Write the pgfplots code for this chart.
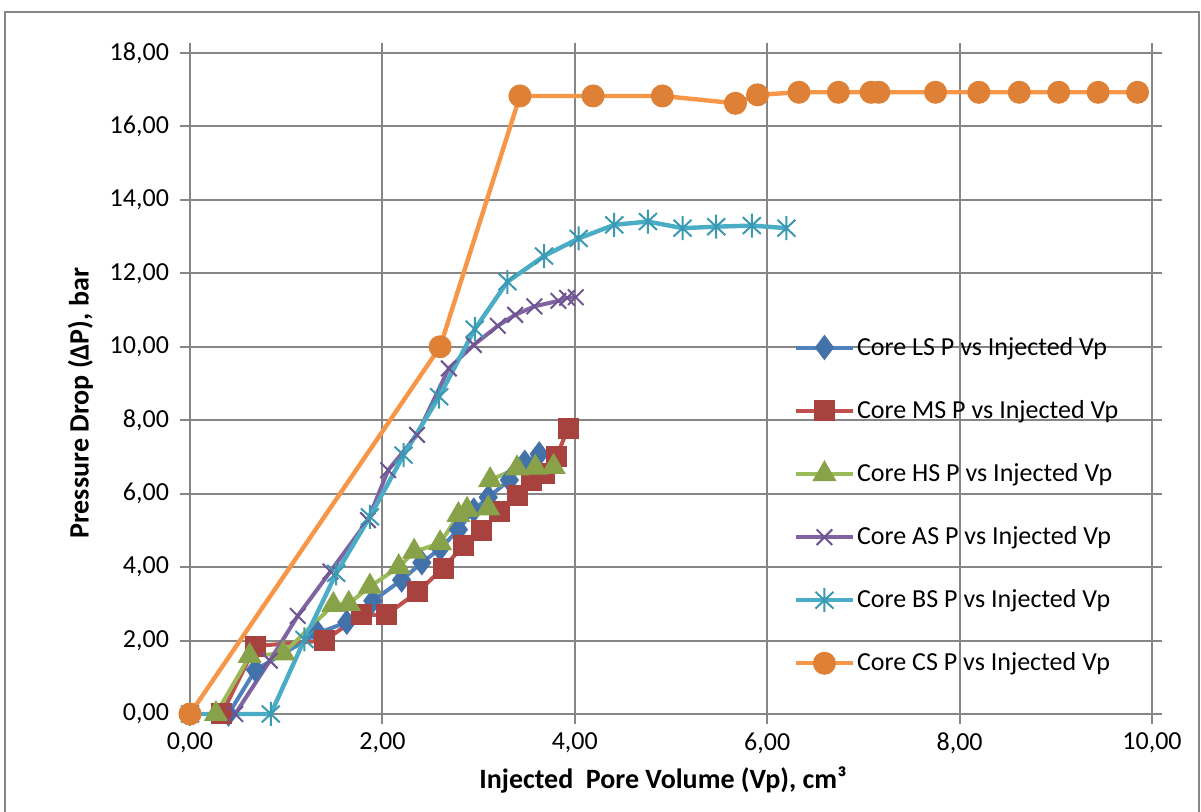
\documentclass[border=0pt]{standalone}
\usepackage{fontspec}
\setmainfont{Carlito}
\usepackage{pgfplots}
\pgfplotsset{compat=1.18}

\definecolor{gridgray}{HTML}{868686}
\definecolor{lsL}{HTML}{4F81BD}\definecolor{lsM}{HTML}{4372AA}
\definecolor{msL}{HTML}{C0504D}\definecolor{msM}{HTML}{A8423F}
\definecolor{hsL}{HTML}{9BBB59}\definecolor{hsM}{HTML}{88A24A}
\definecolor{asL}{HTML}{8064A2}\definecolor{asM}{HTML}{6E5490}
\definecolor{bsL}{HTML}{4BACC6}\definecolor{bsM}{HTML}{3A9AB3}
\definecolor{csL}{HTML}{F79646}\definecolor{csM}{HTML}{DE8136}

\pgfdeclareplotmark{xlstar}{%
  \pgfpathmoveto{\pgfqpoint{0pt}{\pgfplotmarksize}}%
  \pgfpathlineto{\pgfqpoint{0pt}{-\pgfplotmarksize}}%
  \pgfpathmoveto{\pgfqpoint{.75\pgfplotmarksize}{.7\pgfplotmarksize}}%
  \pgfpathlineto{\pgfqpoint{-.75\pgfplotmarksize}{-.7\pgfplotmarksize}}%
  \pgfpathmoveto{\pgfqpoint{-.75\pgfplotmarksize}{.7\pgfplotmarksize}}%
  \pgfpathlineto{\pgfqpoint{.75\pgfplotmarksize}{-.7\pgfplotmarksize}}%
  \pgfusepathqstroke}

\begin{document}
\begin{tikzpicture}
\useasboundingbox (-95pt,-49pt) rectangle (505.5pt,357pt);
\draw[gridgray, line width=1pt] (-92.5pt,-60pt) -- (-92.5pt,351pt) -- (504.5pt,351pt) -- (504.5pt,-60pt);
\begin{axis}[
  at={(0,0)}, anchor=south west, scale only axis,
  width=481pt, height=330.5pt,
  xmin=0, xmax=10, ymin=0, ymax=18,
  xtick={0,2,...,10}, ytick={0,2,...,18},
  grid=major,
  major grid style={line width=1pt, gridgray},
  axis line style={line width=1pt, gridgray},
  tick style={line width=1pt, gridgray},
  tick align=outside, major tick length=5pt,
  clip=false,
  ticklabel style={font=\fontsize{13}{15}\selectfont},
  xticklabel style={yshift=-1pt},
  yticklabel style={xshift=-2pt},
  /pgf/number format/.cd, fixed, fixed zerofill, precision=2, use comma, assume math mode=true,
  /pgfplots/.cd,
  xlabel={Injected~ Pore Volume (Vp), cm³},
  ylabel={Pressure Drop (ΔP), bar},
  xlabel style={font=\bfseries\fontsize{14}{16}\selectfont, at={(axis description cs:0.5,0)}, anchor=center, yshift=-33pt, xshift=-4pt},
  ylabel style={font=\bfseries\fontsize{14}{16}\selectfont, at={(axis description cs:-0.114,0.47)}, anchor=center},
  legend style={at={(0.621,0.58)}, anchor=north west, draw=none, fill=none,
    font=\fontsize{13}{15}\selectfont, row sep=19pt, nodes={inner sep=1pt}},
  legend cell align=left,
  legend image code/.code={\draw[mark repeat=2,mark phase=2,#1] plot coordinates {(0cm,0cm) (0.5cm,0cm) (1cm,0cm)};},
]
\addplot[lsL, line width=2pt, mark=diamond*, mark size=6pt, mark options={fill=lsM, draw=lsM, line width=0.5pt}]
coordinates {(0.40,0)(0.68,1.20)(1.33,2.20)(1.63,2.50)(1.90,3.08)(2.20,3.65)(2.41,4.12)(2.60,4.50)(2.79,5.02)(2.95,5.55)(3.10,5.90)(3.32,6.37)(3.48,6.85)(3.63,7.08)};
\addlegendentry{Core LS P vs Injected Vp}
\addplot[msL, line width=2pt, mark=square*, mark size=5pt, mark options={fill=msM, draw=msM, line width=0.5pt}]
coordinates {(0.33,0)(0.68,1.85)(1.40,2.00)(1.78,2.70)(2.04,2.70)(2.37,3.33)(2.63,3.97)(2.84,4.58)(3.03,5.00)(3.22,5.52)(3.40,5.96)(3.55,6.35)(3.69,6.55)(3.81,7.00)(3.93,7.78)};
\addlegendentry{Core MS P vs Injected Vp}
\addplot[hsL, line width=2pt, mark=triangle*, mark size=6.5pt, mark options={fill=hsM, draw=hsM, line width=0.5pt}]
coordinates {(0.27,0)(0.62,1.58)(0.97,1.65)(1.49,2.97)(1.65,3.00)(1.87,3.47)(2.17,4.00)(2.33,4.42)(2.60,4.65)(2.79,5.42)(2.88,5.56)(3.10,5.60)(3.12,6.37)(3.40,6.69)(3.59,6.71)(3.78,6.73)};
\addlegendentry{Core HS P vs Injected Vp}
\addplot[asL, line width=2pt, mark=x, mark size=5.5pt, mark options={draw=asM, line width=1pt}]
coordinates {(0.47,0)(0.83,1.45)(1.12,2.67)(1.46,3.88)(1.85,5.28)(2.06,6.64)(2.36,7.60)(2.69,9.41)(2.95,10.05)(3.20,10.57)(3.38,10.87)(3.58,11.10)(3.83,11.25)(3.92,11.33)(4.01,11.35)};
\addlegendentry{Core AS P vs Injected Vp}
\addplot[bsL, line width=2.2pt, mark=xlstar, mark size=6pt, mark options={draw=bsM, line width=1pt}]
coordinates {(0,0)(0.84,0)(1.19,2.03)(1.52,3.83)(1.87,5.37)(2.22,7.05)(2.59,8.64)(2.96,10.48)(3.30,11.77)(3.68,12.47)(4.04,12.95)(4.41,13.32)(4.76,13.41)(5.12,13.23)(5.47,13.27)(5.84,13.30)(6.20,13.23)};
\addlegendentry{Core BS P vs Injected Vp}
\addplot[csL, line width=2.2pt, mark=*, mark size=5.5pt, mark options={fill=csM, draw=csM, line width=0.5pt}]
coordinates {(0,0)(2.60,10.00)(3.43,16.83)(4.19,16.83)(4.91,16.83)(5.67,16.63)(5.90,16.86)(6.33,16.93)(6.74,16.93)(7.08,16.93)(7.16,16.93)(7.75,16.93)(8.20,16.93)(8.62,16.93)(9.03,16.93)(9.44,16.93)(9.85,16.93)};
\addlegendentry{Core CS P vs Injected Vp}
\end{axis}
\end{tikzpicture}
\end{document}
